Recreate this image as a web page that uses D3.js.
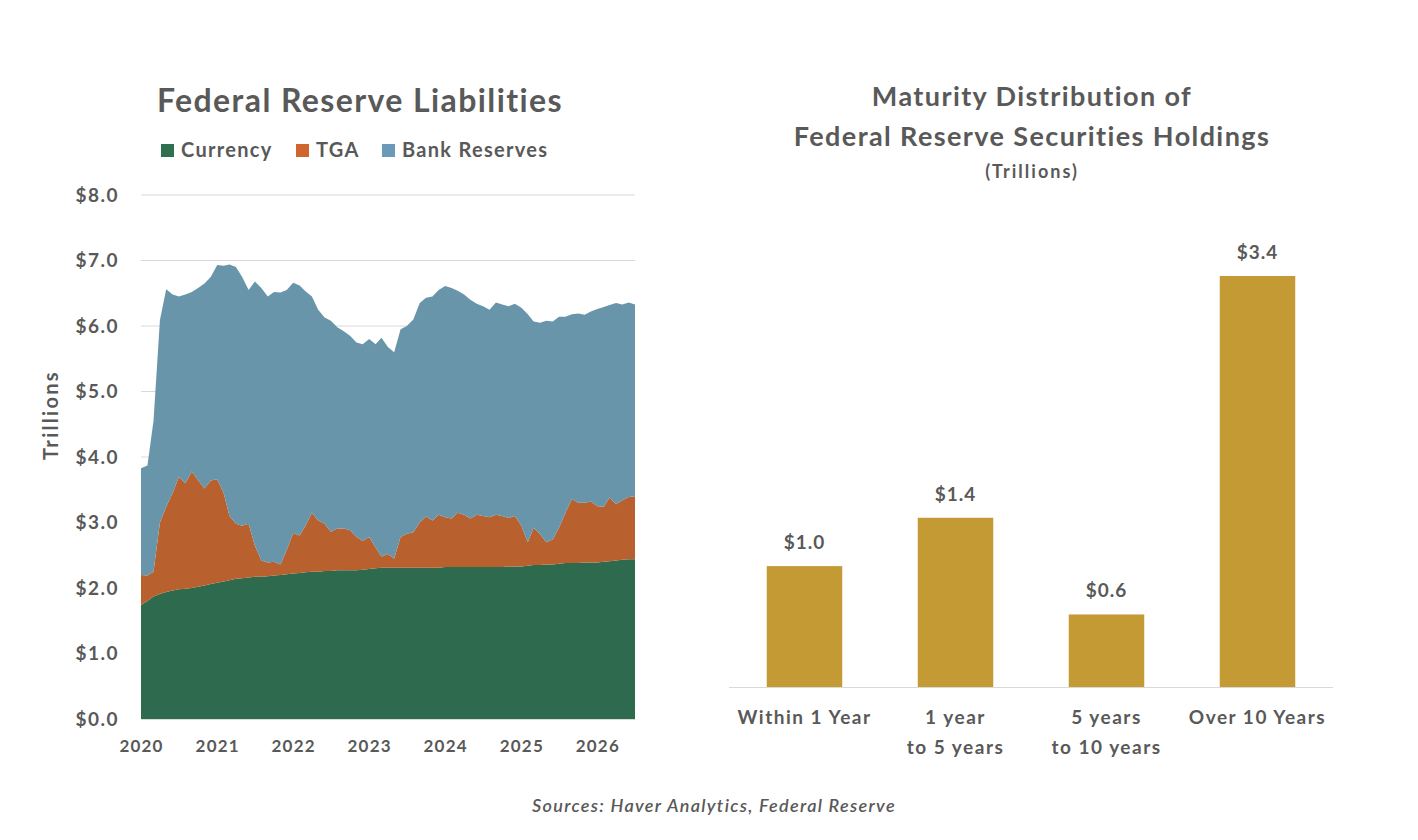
<!DOCTYPE html>
<html>
<head>
<meta charset="utf-8">
<script src="https://cdn.jsdelivr.net/npm/d3@7"></script>
<style>
  body { margin: 0; background: #fff; }
  svg text { font-family: Lato, "Open Sans", sans-serif; fill: #595959; font-weight: bold; }
</style>
</head>
<body>
<svg id="chart" width="1418" height="840"></svg>
<script>
// monthly, Jan 2020 .. Jul 2026 (trillions)
var months = d3.timeMonth.range(new Date(2020, 0, 1), new Date(2026, 7, 1));

var currency = [
  1.74, 1.80, 1.87, 1.91, 1.94, 1.96, 1.98, 1.99, 2.00, 2.02, 2.04, 2.06,
  2.08, 2.10, 2.12, 2.14, 2.15, 2.16, 2.17, 2.17, 2.18, 2.19, 2.20, 2.21,
  2.22, 2.23, 2.24, 2.25, 2.25, 2.26, 2.26, 2.27, 2.27, 2.27, 2.27, 2.28,
  2.29, 2.30, 2.31, 2.31, 2.31, 2.31, 2.31, 2.31, 2.31, 2.31, 2.31, 2.31,
  2.32, 2.32, 2.32, 2.32, 2.32, 2.32, 2.32, 2.32, 2.32, 2.32, 2.33, 2.33,
  2.33, 2.34, 2.35, 2.35, 2.36, 2.36, 2.37, 2.38, 2.38, 2.38, 2.39, 2.39,
  2.39, 2.40, 2.41, 2.42, 2.43, 2.44, 2.44
];
var tga = [
  0.46, 0.39, 0.38, 1.09, 1.30, 1.49, 1.72, 1.61, 1.78, 1.63, 1.48, 1.58,
  1.58, 1.35, 0.98, 0.84, 0.80, 0.82, 0.48, 0.25, 0.21, 0.21, 0.16, 0.37,
  0.62, 0.57, 0.71, 0.90, 0.78, 0.72, 0.60, 0.64, 0.64, 0.61, 0.51, 0.44,
  0.49, 0.32, 0.17, 0.21, 0.14, 0.47, 0.52, 0.54, 0.69, 0.78, 0.72, 0.81,
  0.76, 0.74, 0.83, 0.80, 0.74, 0.80, 0.78, 0.76, 0.80, 0.78, 0.74, 0.77,
  0.62, 0.36, 0.57, 0.47, 0.34, 0.38, 0.55, 0.77, 0.98, 0.92, 0.91, 0.93,
  0.86, 0.84, 0.97, 0.86, 0.91, 0.95, 0.96
];
var bankReserves = [
  1.63, 1.68, 2.30, 3.09, 3.32, 3.03, 2.75, 2.88, 2.74, 2.93, 3.13, 3.11,
  3.27, 3.47, 3.84, 3.92, 3.80, 3.57, 4.03, 4.16, 4.06, 4.12, 4.15, 3.97,
  3.82, 3.82, 3.58, 3.30, 3.22, 3.15, 3.22, 3.07, 3.01, 2.97, 2.97, 3.00,
  3.02, 3.10, 3.34, 3.16, 3.15, 3.17, 3.17, 3.25, 3.35, 3.34, 3.42, 3.43,
  3.53, 3.52, 3.39, 3.36, 3.34, 3.22, 3.20, 3.17, 3.24, 3.23, 3.23, 3.24,
  3.33, 3.48, 3.15, 3.23, 3.38, 3.33, 3.22, 2.99, 2.82, 2.89, 2.87, 2.90,
  3.01, 3.05, 2.94, 3.07, 2.99, 2.97, 2.93
];
var seriesNames = ["Currency", "TGA", "Bank Reserves"];
var yTicks = [0, 1, 2, 3, 4, 5, 6, 7, 8];
var yearTicks = [2020, 2021, 2022, 2023, 2024, 2025, 2026];

var maturityCats = [["Within 1 Year"], ["1 year", "to 5 years"], ["5 years", "to 10 years"], ["Over 10 Years"]];
var maturityVals = [1.0, 1.4, 0.6, 3.4];

var areaColors = ["#2e6a4e", "#b9602f", "#6895a9"];
var legendColors = ["#2e7050", "#d0652f", "#6a9ab8"];

var svg = d3.select("#chart");

// ---------- left: stacked area ----------
var rows = months.map(function(d, i) {
  return { date: d, Currency: currency[i], TGA: tga[i], "Bank Reserves": bankReserves[i] };
});
var stacked = d3.stack().keys(seriesNames)(rows);

var x = d3.scaleTime()
  .domain([months[0], months[months.length - 1]])
  .range([141, 635]);
var y = d3.scaleLinear().domain([0, 8]).range([719, 195]);

var left = svg.append("g");

left.append("g")
  .selectAll("line")
  .data(yTicks.slice(1))
  .enter().append("line")
  .attr("x1", 141).attr("x2", 635)
  .attr("y1", function(d) { return y(d); })
  .attr("y2", function(d) { return y(d); })
  .attr("stroke", "#d9d9d9").attr("stroke-width", 1.2);

var area = d3.area()
  .x(function(d) { return x(d.data.date); })
  .y0(function(d) { return y(d[0]); })
  .y1(function(d) { return y(d[1]); });

left.selectAll(".layer")
  .data(stacked)
  .enter().append("path")
  .attr("class", "layer")
  .attr("d", area)
  .attr("fill", function(d, i) { return areaColors[i]; });

var yAxis = left.append("g")
  .attr("transform", "translate(141,0)")
  .call(d3.axisLeft(y).tickValues(yTicks).tickFormat(d3.format("$.1f")).tickSize(0).tickPadding(22));
yAxis.select(".domain").remove();
yAxis.selectAll("text").style("font-size", "19px").style("letter-spacing", "1.5px");

var xAxis = left.append("g")
  .attr("transform", "translate(0,719)")
  .call(d3.axisBottom(x)
    .tickValues(yearTicks.map(function(yr) { return new Date(yr, 0, 1); }))
    .tickFormat(d3.timeFormat("%Y")).tickSize(0).tickPadding(21));
xAxis.select(".domain").attr("stroke", "#d9d9d9");
xAxis.selectAll("text").style("font-size", "17px").style("letter-spacing", "1.2px");

left.append("text")
  .attr("transform", "translate(58,415) rotate(-90)")
  .attr("text-anchor", "middle")
  .style("font-size", "20px")
  .style("letter-spacing", "2.3px")
  .text("Trillions");

left.append("text")
  .attr("x", 360).attr("y", 112)
  .attr("text-anchor", "middle")
  .style("font-size", "32px")
  .style("letter-spacing", "1.4px")
  .text("Federal Reserve Liabilities");

var legendX = [161, 296, 382];
var legend = left.selectAll(".leg")
  .data(seriesNames)
  .enter().append("g")
  .attr("class", "leg")
  .attr("transform", function(d, i) { return "translate(" + legendX[i] + ",150)"; });
legend.append("rect")
  .attr("x", 0).attr("y", -6).attr("width", 13).attr("height", 13)
  .attr("fill", function(d, i) { return legendColors[i]; });
legend.append("text")
  .attr("x", 20).attr("y", 7)
  .style("font-size", "20px")
  .style("letter-spacing", "1.3px")
  .text(function(d) { return d; });

// ---------- right: maturity bars ----------
var right = svg.append("g");

var xb = d3.scaleBand()
  .domain(d3.range(maturityVals.length))
  .range([729, 1333])
  .paddingInner(0.5).paddingOuter(0.25);
var yb = d3.scaleLinear().domain([0, 3.4]).range([687, 276]);

right.selectAll(".bar")
  .data(maturityVals)
  .enter().append("rect")
  .attr("class", "bar")
  .attr("x", function(d, i) { return xb(i); })
  .attr("width", xb.bandwidth())
  .attr("y", function(d) { return yb(d); })
  .attr("height", function(d) { return yb(0) - yb(d); })
  .attr("fill", "#c49a35");

right.append("line")
  .attr("x1", 729).attr("x2", 1333)
  .attr("y1", 687.5).attr("y2", 687.5)
  .attr("stroke", "#d9d9d9").attr("stroke-width", 1.2);

right.selectAll(".val")
  .data(maturityVals)
  .enter().append("text")
  .attr("class", "val")
  .attr("x", function(d, i) { return xb(i) + xb.bandwidth() / 2; })
  .attr("y", function(d) { return yb(d) - 17; })
  .attr("text-anchor", "middle")
  .style("font-size", "19px")
  .style("letter-spacing", "1px")
  .text(function(d) { return d3.format("$.1f")(d); });

var catLabels = right.selectAll(".cat")
  .data(maturityCats)
  .enter().append("text")
  .attr("class", "cat")
  .attr("x", function(d, i) { return xb(i) + xb.bandwidth() / 2; })
  .attr("y", 724)
  .attr("text-anchor", "middle")
  .style("font-size", "19px")
  .style("letter-spacing", "1.5px");
catLabels.selectAll("tspan")
  .data(function(d) { return d; })
  .enter().append("tspan")
  .attr("x", function() { return d3.select(this.parentNode).attr("x"); })
  .attr("dy", function(d, i) { return i === 0 ? 0 : 30; })
  .text(function(d) { return d; });

var rightTitle = ["Maturity Distribution of", "Federal Reserve Securities Holdings"];
right.selectAll(".rtitle")
  .data(rightTitle)
  .enter().append("text")
  .attr("class", "rtitle")
  .attr("x", 1032)
  .attr("y", function(d, i) { return 106 + i * 40; })
  .attr("text-anchor", "middle")
  .style("font-size", "27px")
  .style("letter-spacing", "1.4px")
  .text(function(d) { return d; });
right.append("text")
  .attr("x", 1032).attr("y", 178)
  .attr("text-anchor", "middle")
  .style("font-size", "18px")
  .style("letter-spacing", "2px")
  .text("(Trillions)");

svg.append("text")
  .attr("x", 714).attr("y", 812)
  .attr("text-anchor", "middle")
  .style("font-size", "18px")
  .style("font-style", "italic")
  .style("font-weight", "600")
  .style("letter-spacing", "1.3px")
  .text("Sources: Haver Analytics, Federal Reserve");
</script>
</body>
</html>
